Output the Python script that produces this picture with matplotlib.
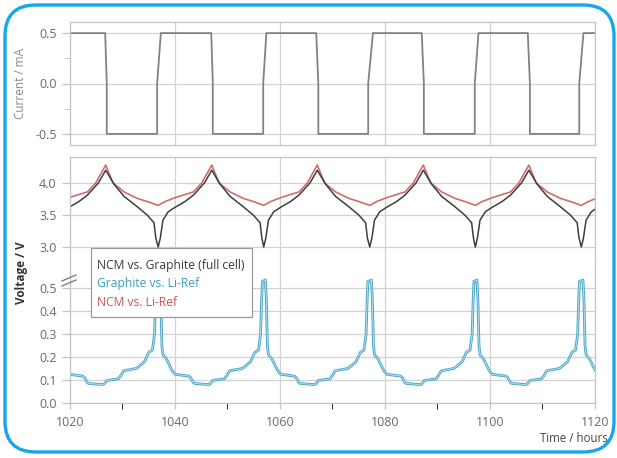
import numpy as np
import matplotlib
matplotlib.use('Agg')
import matplotlib.pyplot as plt
from matplotlib.patches import FancyBboxPatch
from matplotlib.lines import Line2D

plt.rcParams['font.family'] = ['Open Sans', 'DejaVu Sans']

# current steps (hours, mA)
current_t = [1020, 1026.7, 1027.0, 1027.0, 1036.6, 1036.6, 1037.3,
             1046.9, 1047.2, 1047.2, 1056.8, 1056.8, 1057.4,
             1066.9, 1067.3, 1067.3, 1076.8, 1076.8, 1077.7,
             1087.0, 1087.4, 1087.4, 1097.1, 1097.1, 1097.8,
             1107.2, 1107.6, 1107.6, 1117.0, 1117.0, 1117.8, 1120]
current_ma = [0.5, 0.5, 0.0, -0.5, -0.5, 0.0, 0.5,
              0.5, 0.0, -0.5, -0.5, 0.0, 0.5,
              0.5, 0.0, -0.5, -0.5, 0.0, 0.5,
              0.5, 0.0, -0.5, -0.5, 0.0, 0.5,
              0.5, 0.0, -0.5, -0.5, 0.0, 0.5, 0.5]

# times of the full cell minimum / graphite peak in each cycle
cycle_starts = [1016.6, 1036.8, 1056.9, 1077.1, 1097.2, 1117.4]

# one cycle, hours after cycle start
ncm_rel = [0, 1.3, 3.2, 5.1, 6.7, 8.3, 10.2, 11.6, 13.7, 16.2, 18.5]
ncm_v = [3.65, 3.71, 3.77, 3.82, 3.86, 4.00, 4.28, 4.00, 3.86, 3.76, 3.70]

full_rel = [0, 0.4, 0.9, 1.9, 3.2, 5.1, 6.7, 8.8, 10.2, 11.8, 13.7, 16.2, 18.1, 19.4, 19.75]
full_v = [3.00, 3.14, 3.42, 3.55, 3.62, 3.71, 3.81, 4.00, 4.20, 3.98, 3.79, 3.63, 3.50, 3.38, 3.14]

gra_rel = [0, 0.3, 0.5, 0.7, 0.9, 1.6, 2.6, 3.2, 5.8, 6.2, 6.7, 7.0, 9.6, 10.0, 10.4,
           12.6, 13.1, 13.6, 16.0, 16.6, 17.6, 18.4, 19.1, 19.5, 19.7, 19.85]
gra_v = [0.53, 0.535, 0.45, 0.25, 0.21, 0.19, 0.143, 0.125, 0.117, 0.11, 0.088, 0.085, 0.08, 0.085, 0.098,
         0.105, 0.12, 0.14, 0.15, 0.16, 0.18, 0.22, 0.23, 0.30, 0.45, 0.53]


def repeat_cycle(rel, vals):
    t = np.concatenate([np.array(rel) + s for s in cycle_starts])
    v = np.tile(vals, len(cycle_starts))
    return t, v


ncm_t, ncm_y = repeat_cycle(ncm_rel, ncm_v)
full_t, full_y = repeat_cycle(full_rel, full_v)
gra_t, gra_y = repeat_cycle(gra_rel, gra_v)

W, H = 617, 458
fig = plt.figure(figsize=(W / 100, H / 100), dpi=100)

def box(x0, y0, x1, y1):
    return [x0 / W, 1 - y1 / H, (x1 - x0) / W, (y1 - y0) / H]

grid_c = '#d2d2d2'
spine_c = '#c4c4c4'
tick_c = '#6a6a6a'

ax_i = fig.add_axes(box(70, 22, 595, 145))
ax_u = fig.add_axes(box(70, 157, 595, 262))
ax_l = fig.add_axes(box(70, 262, 595, 403))

for ax in (ax_i, ax_u, ax_l):
    ax.set_xlim(1020, 1120)
    ax.set_xticks(np.arange(1020, 1121, 20))
    ax.grid(True, color=grid_c, lw=0.9)
    ax.set_axisbelow(True)
    for s in ax.spines.values():
        s.set_color(spine_c)
        s.set_linewidth(0.9)
    ax.tick_params(colors=spine_c, labelcolor=tick_c, labelsize=9, length=6, width=0.9)

# current panel
ax_i.plot(current_t, current_ma, color='#838383', lw=1.3)
ax_i.set_ylim(-0.61, 0.61)
ax_i.set_yticks([-0.5, 0.0, 0.5])
ax_i.set_yticklabels(['-0.5', '0.0', '0.5'])
ax_i.set_yticks([-0.25, 0.25], minor=True)
ax_i.tick_params(axis='y', which='minor', colors=spine_c, length=4)
ax_i.tick_params(axis='x', length=0, labelbottom=False)
ax_i.set_ylabel('Current / mA', color='#8a8a8a', fontsize=8.5, labelpad=6)

# voltage upper part
ax_u.plot(ncm_t, ncm_y, color='#d06c6c', lw=1.2)
ax_u.plot(full_t, full_y, color='#3e3e3e', lw=1.1)
ax_u.set_ylim(2.766, 4.406)
ax_u.set_yticks([3.0, 3.5, 4.0])
ax_u.set_yticklabels(['3.0', '3.5', '4.0'])
ax_u.spines['bottom'].set_visible(False)
ax_u.tick_params(axis='x', length=0, labelbottom=False)

# voltage lower part
ax_l.plot(gra_t, gra_y, color='#4fa7c9', lw=2.0)
ax_l.plot(gra_t, gra_y, color='#bfe5f1', lw=0.6)
ax_l.set_ylim(0, 0.613)
ax_l.set_yticks([0.0, 0.1, 0.2, 0.3, 0.4, 0.5])
ax_l.set_yticklabels(['0.0', '0.1', '0.2', '0.3', '0.4', '0.5'])
ax_l.set_xticks(np.arange(1030, 1120, 20), minor=True)
ax_l.tick_params(axis='x', which='both', length=4, pad=5)
ax_l.spines['top'].set_visible(False)

# axis break marks
for dy in (0, 5):
    fig.add_artist(Line2D([62 / W, 76 / W], [1 - (281 + dy) / H, 1 - (275 + dy) / H],
                          color='#808080', lw=1.0))

fig.text(22 / W, 1 - 273 / H, 'Voltage / V', rotation=90, ha='center', va='center',
         fontsize=8.5, fontweight='bold', color='#333333')
fig.text(608 / W, 1 - 438 / H, 'Time / hours', ha='right', va='center',
         fontsize=8.3, color='#444444')

# legend box with coloured text only
fig.add_artist(FancyBboxPatch((91 / W, 1 - 317 / H), 161 / W, 69 / H,
                              boxstyle='square,pad=0', facecolor='white',
                              edgecolor='#9a9a9a', lw=0.9))
labels = ['NCM vs. Graphite (full cell)', 'Graphite vs. Li-Ref', 'NCM vs. Li-Ref']
label_colors = ['#3a3a3a', '#3a9fc2', '#c85454']
for i, (lab, c) in enumerate(zip(labels, label_colors)):
    fig.text(97 / W, 1 - (265 + 18.5 * i) / H, lab, color=c, fontsize=8.7,
             ha='left', va='center')

# rounded blue frame
fig.add_artist(FancyBboxPatch((5 / W, 6 / H), 609 / W, 447 / H,
                              boxstyle='round,pad=0,rounding_size=0.05',
                              facecolor='none', edgecolor='#19a6e6', lw=2.4,
                              mutation_aspect=W / H))

fig.savefig('out.png', dpi=100)
